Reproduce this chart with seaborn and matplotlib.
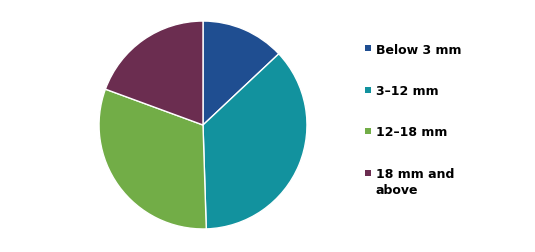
import matplotlib
matplotlib.use("Agg")
import matplotlib.pyplot as plt
import seaborn as sns
from matplotlib.patches import Rectangle

categories = ["Below 3 mm", "3\u201312 mm", "12\u201318 mm", "18 mm and\nabove"]
shares = [13.0, 36.5, 31.1, 19.4]
colors = ["#1f4e91", "#12929e", "#72ad47", "#6b2d50"]

sns.set_theme(style="white")
plt.rcParams['font.family'] = ['DejaVu Sans']

W, H = 535, 253
fig = plt.figure(figsize=(W / 100, H / 100), dpi=100)
cx, cy, r = 203, 125, 105
ax = fig.add_axes([(cx - r) / W, (H - cy - r - 1) / H, 2 * r / W, 2 * r / H])
ax.pie(shares, colors=colors, startangle=90, counterclock=False,
       wedgeprops=dict(edgecolor="white", linewidth=1), radius=1)
ax.set_xlim(-1.01, 1.01)
ax.set_ylim(-1.01, 1.01)
ax.set_aspect("equal")
ax.axis("off")

# legend (manual, marker aligned with first text line)
row_y0, row_step, line_pitch = 49, 41.5, 16
for i, (cat, col) in enumerate(zip(categories, colors)):
    yc = row_y0 + row_step * i
    fig.patches.append(Rectangle((365 / W, 1 - (yc + 3) / H), 6 / W, 6 / H,
                                 transform=fig.transFigure, facecolor=col,
                                 edgecolor="none"))
    nlines = cat.count("\n")
    fig.text(376 / W, 1 - (yc + 4.5 + nlines * line_pitch) / H, cat,
             fontsize=9, fontweight="bold", color="black",
             ha="left", va="baseline", linespacing=1.26)

fig.savefig("out.png", dpi=100, facecolor="white")
